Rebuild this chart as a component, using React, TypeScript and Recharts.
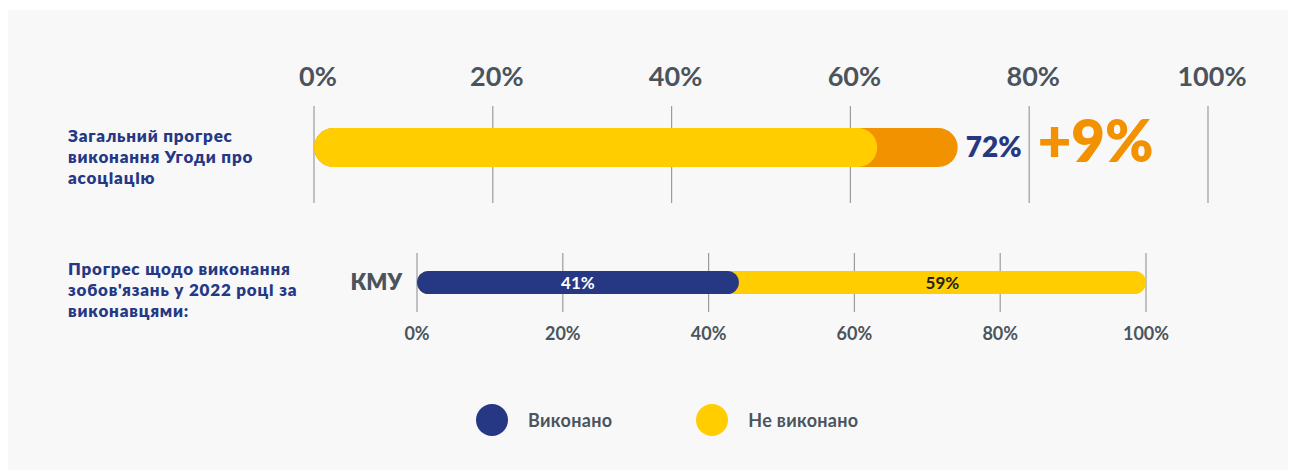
import React from 'react';
import { BarChart, Bar, XAxis, YAxis, CartesianGrid, LabelList } from 'recharts';

// ---- data ----
const topTitleLines = ['Загальний прогрес', 'виконання Угоди про', 'асоціацію'];
const topCategories = ['Загальний прогрес виконання Угоди про асоціацію'];
const topPrevious = [63];
const topCurrent = [72];

const bottomTitleLines = ['Прогрес щодо виконання', "зобов'язань у 2022 році за", 'виконавцями:'];
const bottomCategories = ['КМУ'];
const doneValues = [41];
const notDoneValues = [59];

const percentTicks = [0, 20, 40, 60, 80, 100];
const legendNames = ['Виконано', 'Не виконано'];

// ---- styles ----
const NAVY = '#263884';
const YELLOW = '#FFCD00';
const ORANGE = '#F29200';
const GRAY = '#4b545c';
const GRID = '#9c9c9c';
const FONT = 'Lato, "Open Sans", sans-serif';

const topData = topCategories.map((name, i) => ({
  name,
  previous: topPrevious[i],
  current: topCurrent[i],
  delta: topCurrent[i] - topPrevious[i],
}));

const bottomData = bottomCategories.map((name, i) => ({
  name,
  done: doneValues[i],
  notDone: notDoneValues[i],
  total: doneValues[i] + notDoneValues[i],
}));

const legendColors = [NAVY, YELLOW];

function box(props: any) {
  const vb = props.viewBox || {};
  return {
    x: props.x ?? vb.x ?? 0,
    y: props.y ?? vb.y ?? 0,
    width: props.width ?? vb.width ?? 0,
    height: props.height ?? vb.height ?? 0,
    index: props.index ?? 0,
  };
}

const renderTopLabel = (props: any) => {
  const { x, y, width, height, index } = box(props);
  const row = topData[index] || topData[0];
  const cy = y + height / 2;
  const end = x + width;
  return (
    <g>
      <text x={end + 8} y={cy + 9.5} fill={NAVY} fontSize={28} fontWeight={800} fontFamily={FONT}>
        {row.current}%
      </text>
      <text x={end + 80} y={cy + 14.5} fill={ORANGE} fontSize={58} fontWeight={800} fontFamily={FONT}>
        +{row.delta}%
      </text>
    </g>
  );
};

const NavyShape = (props: any) => {
  const { x, y, width, height, fill } = props;
  const r = height / 2;
  return <rect x={x} y={y} width={width + height} height={height} rx={r} ry={r} fill={fill} />;
};

const renderDoneLabel = (props: any) => {
  const { x, y, width, height, index } = box(props);
  const row = bottomData[index] || bottomData[0];
  return (
    <text
      x={x + (width + height) / 2}
      y={y + height / 2}
      textAnchor="middle"
      dominantBaseline="central"
      fill="#ffffff"
      fontSize={17}
      fontWeight={700}
      fontFamily={FONT}
    >
      {row.done}%
    </text>
  );
};

const renderNotDoneLabel = (props: any) => {
  const { x, y, width, height, index } = box(props);
  const row = bottomData[index] || bottomData[0];
  const wDone = (width * row.done) / row.total;
  const cx = (x + wDone + height + x + width) / 2;
  return (
    <text
      x={cx}
      y={y + height / 2}
      textAnchor="middle"
      dominantBaseline="central"
      fill="#222222"
      fontSize={17}
      fontWeight={700}
      fontFamily={FONT}
    >
      {row.notDone}%
    </text>
  );
};

const titleStyle: React.CSSProperties = {
  position: 'absolute',
  left: 60,
  fontFamily: FONT,
  fontWeight: 800,
  fontSize: 17,
  letterSpacing: 0.8,
  lineHeight: '21px',
  color: NAVY,
  whiteSpace: 'nowrap',
};

export default function App() {
  return (
    <div
      style={{
        position: 'relative',
        width: 1280,
        height: 460,
        marginTop: 2,
        background: '#f8f8f8',
        fontFamily: FONT,
      }}
    >
      <div style={{ ...titleStyle, top: 115 }}>
        {topTitleLines.map((l, i) => (
          <div key={i}>{l}</div>
        ))}
      </div>
      <div style={{ ...titleStyle, top: 248 }}>
        {bottomTitleLines.map((l, i) => (
          <div key={i}>{l}</div>
        ))}
      </div>

      <div style={{ position: 'absolute', left: 0, top: 0 }}>
        <BarChart
          layout="vertical"
          width={1280}
          height={200}
          data={topData}
          margin={{ top: 0, right: 80, left: 306, bottom: 7 }}
          barGap={-39}
          barSize={39}
        >
          <CartesianGrid horizontal={false} stroke={GRID} strokeWidth={1.2} />
          <XAxis
            type="number"
            orientation="top"
            domain={[0, 100]}
            ticks={percentTicks}
            height={96}
            axisLine={false}
            tickLine={false}
            tickMargin={14}
            tickFormatter={(v: number) => `${v}%`}
            tick={{ fontSize: 27, fill: GRAY, fontWeight: 700, fontFamily: FONT, dx: 4 }}
          />
          <YAxis type="category" dataKey="name" hide padding={{ top: 0, bottom: 14 }} />
          <Bar dataKey="current" fill={ORANGE} radius={19.5} isAnimationActive={false}>
            <LabelList dataKey="current" content={renderTopLabel} />
          </Bar>
          <Bar dataKey="previous" fill={YELLOW} radius={19.5} isAnimationActive={false} />
        </BarChart>
      </div>

      <div style={{ position: 'absolute', left: 0, top: 220 }}>
        <BarChart
          layout="vertical"
          width={1280}
          height={130}
          data={bottomData}
          margin={{ top: 23, right: 142, left: 329, bottom: 0 }}
          barGap={-23}
          barSize={23}
        >
          <CartesianGrid horizontal={false} stroke={GRID} strokeWidth={1.2} />
          <XAxis
            type="number"
            domain={[0, 100]}
            ticks={percentTicks}
            height={48}
            axisLine={false}
            tickLine={false}
            tickMargin={9}
            tickFormatter={(v: number) => `${v}%`}
            tick={{ fontSize: 18, fill: GRAY, fontWeight: 700, fontFamily: FONT }}
          />
          <YAxis
            type="category"
            dataKey="name"
            width={80}
            axisLine={false}
            tickLine={false}
            tickMargin={9}
            tick={{ fontSize: 22, fill: GRAY, fontWeight: 800, fontFamily: FONT }}
          />
          <Bar dataKey="total" name={legendNames[1]} fill={YELLOW} radius={11.5} isAnimationActive={false}>
            <LabelList dataKey="notDone" content={renderNotDoneLabel} />
          </Bar>
          <Bar dataKey="done" name={legendNames[0]} fill={NAVY} shape={NavyShape} isAnimationActive={false}>
            <LabelList dataKey="done" content={renderDoneLabel} />
          </Bar>
        </BarChart>
      </div>

      <div
        style={{
          position: 'absolute',
          left: 468,
          top: 394,
          display: 'flex',
          alignItems: 'center',
          height: 32,
        }}
      >
        {legendNames.map((name, i) => (
          <div key={name} style={{ display: 'flex', alignItems: 'center', marginRight: i === 0 ? 84 : 0 }}>
            <div
              style={{
                width: 32,
                height: 32,
                borderRadius: 16,
                background: legendColors[i],
                marginRight: 20,
              }}
            />
            <span style={{ fontSize: 18, fontWeight: 700, color: GRAY, fontFamily: FONT, letterSpacing: 0.3 }}>
              {name}
            </span>
          </div>
        ))}
      </div>
    </div>
  );
}
